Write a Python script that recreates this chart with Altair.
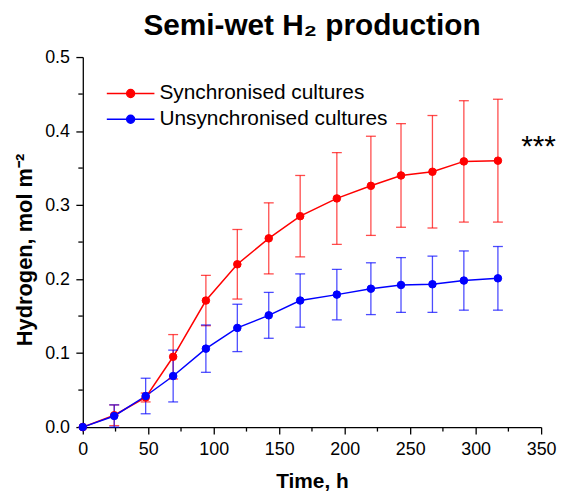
import altair as alt
import pandas as pd

# ---- data ----
times = [0, 24, 48, 69, 94, 118, 142, 166, 194, 220, 243, 267, 291, 317]
sync_mean = [0.0, 0.016, 0.040, 0.095, 0.171, 0.220, 0.255, 0.285, 0.309, 0.326, 0.340, 0.345, 0.359, 0.360]
sync_err = [0.0, 0.014, 0.006, 0.030, 0.034, 0.047, 0.048, 0.055, 0.062, 0.067, 0.070, 0.076, 0.082, 0.083]
unsync_mean = [0.0, 0.015, 0.042, 0.069, 0.106, 0.134, 0.151, 0.171, 0.179, 0.187, 0.192, 0.193, 0.198, 0.201]
unsync_err = [0.0, 0.015, 0.024, 0.035, 0.032, 0.032, 0.031, 0.036, 0.034, 0.035, 0.037, 0.038, 0.040, 0.043]

series_names = ["Synchronised cultures", "Unsynchronised cultures"]
series_colors = ["#ff0000", "#0000ff"]

x_major = [0, 50, 100, 150, 200, 250, 300, 350]
x_minor = [25, 75, 125, 175, 225, 275, 325]
y_major = [0.0, 0.1, 0.2, 0.3, 0.4, 0.5]
y_minor = [0.05, 0.15, 0.25, 0.35, 0.45]

annot_text = ["***"]
annot_x = [348]
annot_y = [0.366]

rows = []
for name, means, errs in [(series_names[0], sync_mean, sync_err),
                          (series_names[1], unsync_mean, unsync_err)]:
    for t, m, e in zip(times, means, errs):
        rows.append({"series": name, "time": t, "h2": m, "lo": m - e, "hi": m + e, "err": e})
df = pd.DataFrame(rows)

FONT = "Liberation Sans"
W, H = 462, 373

x_scale = alt.Scale(domain=[0, 350], nice=False, zero=False)
y_scale = alt.Scale(domain=[0, 0.5], nice=False)

SYM = "M-4.8,0L4.8,0M0.8,0A0.8,0.8,0,1,1,-0.8,0A0.8,0.8,0,1,1,0.8,0Z"
legend = alt.Legend(
    title=None, orient="top-left", offset=20, padding=6.2, symbolOffset=11.5,
    symbolType=SYM, symbolSize=100, symbolStrokeWidth=1.5, symbolOpacity=1,
    labelFont=FONT, labelFontSize=21, labelColor="black", labelOffset=18.5,
    labelLimit=0, rowPadding=4,
)

X_TITLE = "Time, h"
Y_TITLE = "Hydrogen, mol m\u207b\u00b2"

x_axis = alt.Axis(
    values=x_major, title=X_TITLE, grid=False,
    labelFont=FONT, labelFontSize=18, labelColor="black", labelPadding=7,
    labelFlush=False, labelOverlap=False,
    tickSize=7, tickWidth=1.3, tickColor="black",
    domainColor="black", domainWidth=1.3,
    titleFont=FONT, titleFontSize=21, titleFontWeight="bold", titleColor="black",
    titleY=60.5, titleBaseline="alphabetic",
)
y_axis = alt.Axis(
    values=y_major, format=".1f", title=Y_TITLE, grid=False,
    labelFont=FONT, labelFontSize=18, labelColor="black", labelPadding=6.4,
    labelFlush=False, labelOverlap=False,
    tickSize=7, tickWidth=1.3, tickColor="black",
    domainColor="black", domainWidth=1.3,
    titleFont=FONT, titleFontSize=22, titleFontWeight="bold", titleColor="black",
    titleX=-58.4, titleY=194, titleBaseline="middle", titleAngle=270,
)

base = alt.Chart(df)
X = alt.X("time:Q", scale=x_scale, axis=x_axis, title=X_TITLE)
Y = alt.Y("h2:Q", scale=y_scale, axis=y_axis, title=Y_TITLE)
S = alt.Stroke("series:N", scale=alt.Scale(domain=series_names, range=series_colors),
               legend=legend, sort=series_names)
F = alt.Fill("series:N", scale=alt.Scale(domain=series_names, range=series_colors),
             legend=legend, sort=series_names)
C = alt.Color("series:N", scale=alt.Scale(domain=series_names, range=series_colors),
              legend=None, sort=series_names)

errbars = base.transform_filter("datum.err > 0").mark_errorbar(
    ticks=True, size=10, thickness=1.3, opacity=0.7
).encode(
    x=X,
    y=alt.Y("lo:Q", scale=y_scale, axis=y_axis, title=Y_TITLE),
    y2="hi:Q",
    color=C,
)
lines = base.mark_line(strokeWidth=1.5).encode(x=X, y=Y, stroke=S)
points = base.mark_point(filled=True, size=58, opacity=1, strokeWidth=1).encode(
    x=X, y=Y, fill=F, stroke=S)

minor_x_df = pd.DataFrame({"t": x_minor})
minor_y_df = pd.DataFrame({"v": y_minor})
minor_x = alt.Chart(minor_x_df).mark_rule(color="black", strokeWidth=1.3).encode(
    x=alt.X("t:Q", scale=x_scale, axis=x_axis, title=X_TITLE),
    y=alt.value(H), y2=alt.value(H + 4.5))
minor_y = alt.Chart(minor_y_df).mark_rule(color="black", strokeWidth=1.3).encode(
    y=alt.Y("v:Q", scale=y_scale, axis=y_axis, title=Y_TITLE),
    x=alt.value(0), x2=alt.value(-4.5))

annot_df = pd.DataFrame({"text": annot_text, "x": annot_x, "y": annot_y})
annot = alt.Chart(annot_df).mark_text(
    font=FONT, fontSize=30, color="black", align="center", baseline="alphabetic"
).encode(x=alt.X("x:Q", scale=x_scale, axis=x_axis, title=X_TITLE),
         y=alt.Y("y:Q", scale=y_scale, axis=y_axis, title=Y_TITLE), text="text:N")

chart = alt.layer(lines, minor_x, minor_y, errbars, points, annot).properties(
    width=W, height=H,
    title=alt.TitleParams(
        text="Semi-wet H\u2082 production", font=FONT, fontSize=30, fontWeight="bold",
        color="black", anchor="middle", frame="group", offset=7,
    ),
    autosize=alt.AutoSizeParams(type="none"),
    padding={"left": 75.4, "top": 47.5, "right": 16, "bottom": 65},
).configure(background="white").configure_view(strokeWidth=0, stroke="transparent")

chart.save("out.html", embed_options={"renderer": "svg", "actions": False})
